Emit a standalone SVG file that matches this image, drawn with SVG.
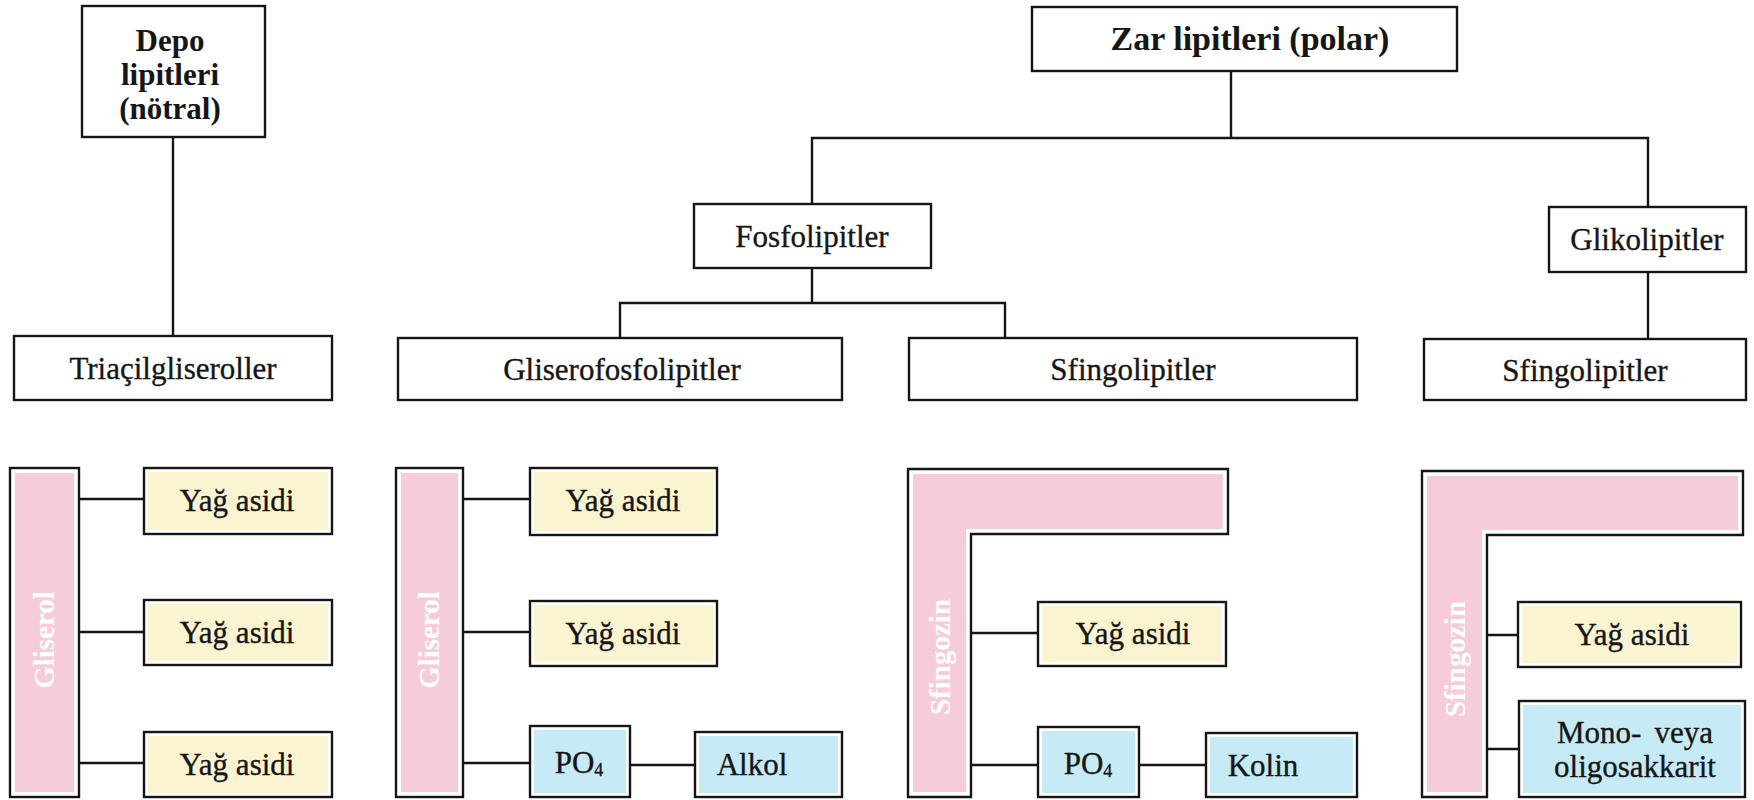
<svg xmlns="http://www.w3.org/2000/svg" width="1754" height="800" viewBox="0 0 1754 800">
<style>
.box{fill:#fff;stroke:#151515;stroke-width:2.4}
.ln{stroke:#151515;stroke-width:2.4;fill:none}
.pk{fill:#f6ccd8}
.yl{fill:#faf5d0}
.bl{fill:#c6ebf6}
.t{font-family:"Liberation Serif","DejaVu Serif",serif;font-size:31px;fill:#161616;text-anchor:middle;stroke:#161616;stroke-width:0.35}
.b{font-family:"Liberation Serif","DejaVu Serif",serif;font-size:34px;font-weight:bold;fill:#161616;text-anchor:middle}
.d{font-size:31px}
.w{font-family:"Liberation Serif","DejaVu Serif",serif;font-size:29px;font-weight:bold;fill:#fff;text-anchor:middle}
</style>
<rect width="1754" height="800" fill="#fff"/>
<g id="connectors">
<path class="ln" d="M173,137V336"/>
<path class="ln" d="M1231,71V138M812,204V138H1648V207"/>
<path class="ln" d="M812,268V303M620,338V303H1005V338"/>
<path class="ln" d="M1648,272V339"/>
<path class="ln" d="M79,499H144M79,632H144M79,763H144"/>
<path class="ln" d="M463,499H530M463,632H530M463,763H530M630,765H695"/>
<path class="ln" d="M971,633H1038M971,765H1038M1139,765H1206"/>
<path class="ln" d="M1487,635H1518M1487,749H1519"/>
</g>
<g id="depo">
<rect class="box" x="82" y="6" width="183" height="131"/>
<text class="b d" x="170" y="51">Depo</text>
<text class="b d" x="170" y="85">lipitleri</text>
<text class="b d" x="170" y="119">(nötral)</text>
</g>
<g id="zar">
<rect class="box" x="1032" y="7" width="425" height="64"/>
<text class="b" x="1250" y="50">Zar lipitleri (polar)</text>
</g>
<g id="fosfolipitler">
<rect class="box" x="694" y="204" width="237" height="64"/>
<text class="t" x="812" y="247">Fosfolipitler</text>
</g>
<g id="glikolipitler">
<rect class="box" x="1549" y="207" width="197" height="65"/>
<text class="t" x="1647" y="250">Glikolipitler</text>
</g>
<g id="triacilgliseroller">
<rect class="box" x="14" y="336" width="318" height="64"/>
<text class="t" x="173" y="379">Triaçilgliseroller</text>
</g>
<g id="gliserofosfolipitler">
<rect class="box" x="398" y="338" width="444" height="62"/>
<text class="t" x="622" y="380">Gliserofosfolipitler</text>
</g>
<g id="sfingolipitler1">
<rect class="box" x="909" y="338" width="448" height="62"/>
<text class="t" x="1133" y="380">Sfingolipitler</text>
</g>
<g id="sfingolipitler2">
<rect class="box" x="1424" y="339" width="322" height="61"/>
<text class="t" x="1585" y="381">Sfingolipitler</text>
</g>
<g id="gliserol1">
<rect class="box" x="10" y="468" width="69" height="329"/>
<rect class="pk" x="15" y="473" width="59" height="319"/>
<text class="w" transform="translate(44,640) rotate(-90)" y="10">Gliserol</text>
</g>
<g id="yag1a"><rect class="box" x="144" y="468" width="188" height="66"/><rect class="yl" x="148" y="472" width="180" height="58"/><text class="t" x="237" y="511">Yağ asidi</text></g>
<g id="yag1b"><rect class="box" x="144" y="600" width="188" height="65"/><rect class="yl" x="148" y="604" width="180" height="57"/><text class="t" x="237" y="643">Yağ asidi</text></g>
<g id="yag1c"><rect class="box" x="144" y="732" width="188" height="65"/><rect class="yl" x="148" y="736" width="180" height="57"/><text class="t" x="237" y="775">Yağ asidi</text></g>
<g id="gliserol2">
<rect class="box" x="396" y="468" width="67" height="329"/>
<rect class="pk" x="401" y="473" width="57" height="319"/>
<text class="w" transform="translate(429,640) rotate(-90)" y="10">Gliserol</text>
</g>
<g id="yag2a"><rect class="box" x="530" y="468" width="187" height="67"/><rect class="yl" x="534" y="472" width="179" height="59"/><text class="t" x="623" y="511">Yağ asidi</text></g>
<g id="yag2b"><rect class="box" x="530" y="601" width="187" height="65"/><rect class="yl" x="534" y="605" width="179" height="57"/><text class="t" x="623" y="644">Yağ asidi</text></g>
<g id="po4a"><rect class="box" x="530" y="726" width="100" height="71"/><rect class="bl" x="534" y="730" width="92" height="63"/><text class="t" x="579" y="773">PO<tspan font-size="18" dy="3">4</tspan></text></g>
<g id="alkol"><rect class="box" x="695" y="732" width="147" height="65"/><rect class="bl" x="699" y="736" width="139" height="57"/><text class="t" x="752" y="775">Alkol</text></g>
<g id="sfingozin1">
<path class="box" d="M908,469H1228V534H971V797H908Z"/>
<path class="pk" d="M913,474H1223V529H966V792H913Z"/>
<text class="w" transform="translate(940,657) rotate(-90)" y="10">Sfingozin</text>
</g>
<g id="yag3"><rect class="box" x="1038" y="602" width="188" height="64"/><rect class="yl" x="1042" y="606" width="180" height="56"/><text class="t" x="1133" y="644">Yağ asidi</text></g>
<g id="po4b"><rect class="box" x="1038" y="727" width="101" height="70"/><rect class="bl" x="1042" y="731" width="93" height="62"/><text class="t" x="1088" y="774">PO<tspan font-size="18" dy="3">4</tspan></text></g>
<g id="kolin"><rect class="box" x="1206" y="733" width="151" height="64"/><rect class="bl" x="1210" y="737" width="143" height="56"/><text class="t" x="1263" y="776">Kolin</text></g>
<g id="sfingozin2">
<path class="box" d="M1422,471H1743V535H1487V797H1422Z"/>
<path class="pk" d="M1427,476H1738V530H1482V792H1427Z"/>
<text class="w" transform="translate(1455,659) rotate(-90)" y="10">Sfingozin</text>
</g>
<g id="yag4"><rect class="box" x="1518" y="602" width="223" height="65"/><rect class="yl" x="1522" y="606" width="215" height="57"/><text class="t" x="1632" y="645">Yağ asidi</text></g>
<g id="mono"><rect class="box" x="1519" y="701" width="226" height="96"/><rect class="bl" x="1523" y="705" width="218" height="88"/>
<text class="t" x="1557" y="743" style="text-anchor:start">Mono-</text><text class="t" x="1713" y="743" style="text-anchor:end">veya</text>
<text class="t" x="1635" y="777">oligosakkarit</text></g>
</svg>
